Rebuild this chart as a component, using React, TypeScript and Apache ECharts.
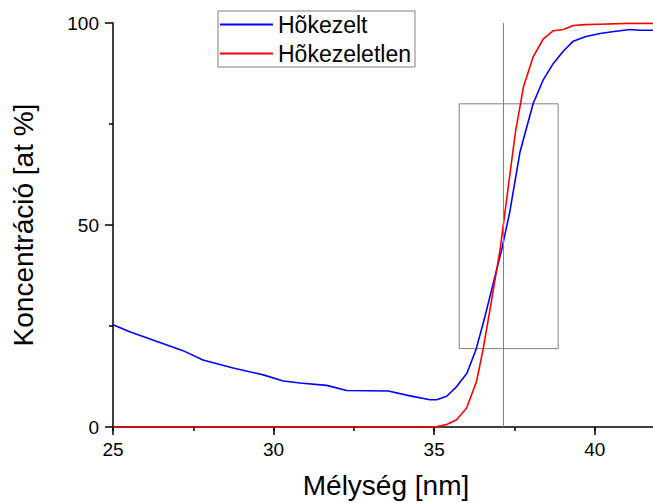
import React, { useEffect, useRef } from "react";
import * as echarts from "echarts";

// Hőkezelt (blue)
const depthHeated = [25, 25.52, 26.35, 27.18, 27.8, 28.74, 29.68, 30.3, 30.82, 31.65, 32.28, 33.57, 34.25, 34.87, 35.08, 35.39, 35.7, 36.02, 36.3, 36.58, 36.84, 37.1, 37.36, 37.67, 38.08, 38.4, 38.71, 39.02, 39.33, 39.7, 40.16, 40.6, 41.1, 41.4, 41.8, 42];
const concHeated = [25.3, 23.6, 21.2, 18.9, 16.6, 14.6, 12.9, 11.4, 10.9, 10.3, 9.05, 8.9, 7.7, 6.75, 6.75, 7.6, 10.0, 13.3, 19.1, 27.3, 35.6, 43.8, 53.5, 68, 80, 86, 90, 93, 95.5, 96.6, 97.4, 97.9, 98.4, 98.2, 98.2, 98.2];

// Hőkezeletlen (red)
const depthUnheated = [25, 27, 29, 31, 33, 34.77, 35.08, 35.39, 35.7, 36.01, 36.32, 36.53, 36.79, 37.05, 37.3, 37.53, 37.78, 38.08, 38.4, 38.71, 39.02, 39.33, 39.7, 40.16, 41.0, 42];
const concUnheated = [0, 0, 0, 0, 0, 0, 0.1, 0.6, 1.8, 4.7, 11.3, 19.5, 31.5, 43.8, 59, 73, 84.2, 91.6, 96.1, 98.1, 98.4, 99.4, 99.6, 99.7, 99.9, 99.9];

const seriesNames = ["Hõkezelt", "Hõkezeletlen"];
const seriesColors = ["#0000ff", "#ff0000"];
const xRange = [25, 42];
const yRange = [0, 100];
const markerDepth = [37.15];
const boxDepth = [35.78, 38.86];
const boxConc = [19.4, 80];

export default function App() {
  const ref = useRef<HTMLDivElement>(null);
  useEffect(() => {
    document.body.style.margin = "0";
    document.body.style.overflow = "hidden";
    document.documentElement.style.overflow = "hidden";
    const chart = echarts.init(ref.current!, null, { renderer: "svg" });
    const font = "'Liberation Sans', Arial, sans-serif";
    const tickStyle = { color: "#000", width: 1.5 };
    chart.setOption({
      animation: false,
      textStyle: { fontFamily: font },
      grid: { left: 113, top: 23, right: -6, bottom: 76, containLabel: false, outerBoundsMode: "none" },
      legend: {
        orient: "vertical",
        left: 218,
        top: 11,
        padding: [2, 4, 2, 2],
        itemGap: 6,
        itemWidth: 53,
        itemHeight: 2,
        icon: "rect",
        borderColor: "#7f7f7f",
        borderWidth: 1,
        backgroundColor: "#fff",
        data: seriesNames,
        textStyle: { fontSize: 23, lineHeight: 23, color: "#000", fontFamily: font },
      },
      xAxis: [
        {
          type: "value",
          min: xRange[0],
          max: xRange[1],
          interval: 5,
          position: "bottom",
          name: "Mélység [nm]",
          nameLocation: "middle",
          nameGap: 44,
          nameTextStyle: { fontSize: 28, color: "#000", fontFamily: font },
          axisLine: { show: true, onZero: false, lineStyle: tickStyle },
          axisTick: { show: true, length: 8, lineStyle: tickStyle },
          axisLabel: { fontSize: 19, color: "#000", margin: 13, showMaxLabel: false, fontFamily: font },
          splitLine: { show: false },
        },
        {
          type: "value",
          min: xRange[0],
          max: xRange[1],
          interval: 2.5,
          position: "bottom",
          axisLine: { show: false, onZero: false },
          axisTick: { show: true, length: 4, lineStyle: tickStyle },
          axisLabel: { show: false },
          splitLine: { show: false },
        },
      ],
      yAxis: {
        type: "value",
        min: yRange[0],
        max: yRange[1],
        interval: 50,
        name: "Koncentráció [at %]",
        nameLocation: "middle",
        nameGap: 76,
        nameTextStyle: { fontSize: 28, color: "#000", fontFamily: font },
        axisLine: { show: true, onZero: false, lineStyle: tickStyle },
        axisTick: { show: true, length: 8, lineStyle: tickStyle },
        minorTick: { show: true, splitNumber: 2, length: 4, lineStyle: tickStyle },
        axisLabel: { fontSize: 19, color: "#000", margin: 14, fontFamily: font },
        splitLine: { show: false },
        minorSplitLine: { show: false },
      },
      series: [
        {
          name: seriesNames[0],
          type: "line",
          xAxisIndex: 0,
          symbol: "none",
          color: seriesColors[0],
          lineStyle: { color: seriesColors[0], width: 1.6 },
          data: depthHeated.map((d, i) => [d, concHeated[i]]),
          markArea: {
            silent: true,
            label: { show: false },
            itemStyle: { color: "rgba(0,0,0,0)", borderColor: "#808080", borderWidth: 1 },
            data: [[{ coord: [boxDepth[0], boxConc[1]] }, { coord: [boxDepth[1], boxConc[0]] }]],
          },
        },
        {
          name: seriesNames[1],
          type: "line",
          xAxisIndex: 0,
          symbol: "none",
          color: seriesColors[1],
          lineStyle: { color: seriesColors[1], width: 1.6 },
          data: depthUnheated.map((d, i) => [d, concUnheated[i]]),
          markLine: {
            silent: true,
            symbol: ["none", "none"],
            label: { show: false },
            lineStyle: { color: "#808080", width: 1, type: "solid" },
            data: [{ xAxis: markerDepth[0] }],
          },
        },
      ],
    });
    return () => chart.dispose();
  }, []);
  return <div ref={ref} style={{ position: "absolute", left: 0, top: 0, width: 653, height: 503, overflow: "hidden" }} />;
}
